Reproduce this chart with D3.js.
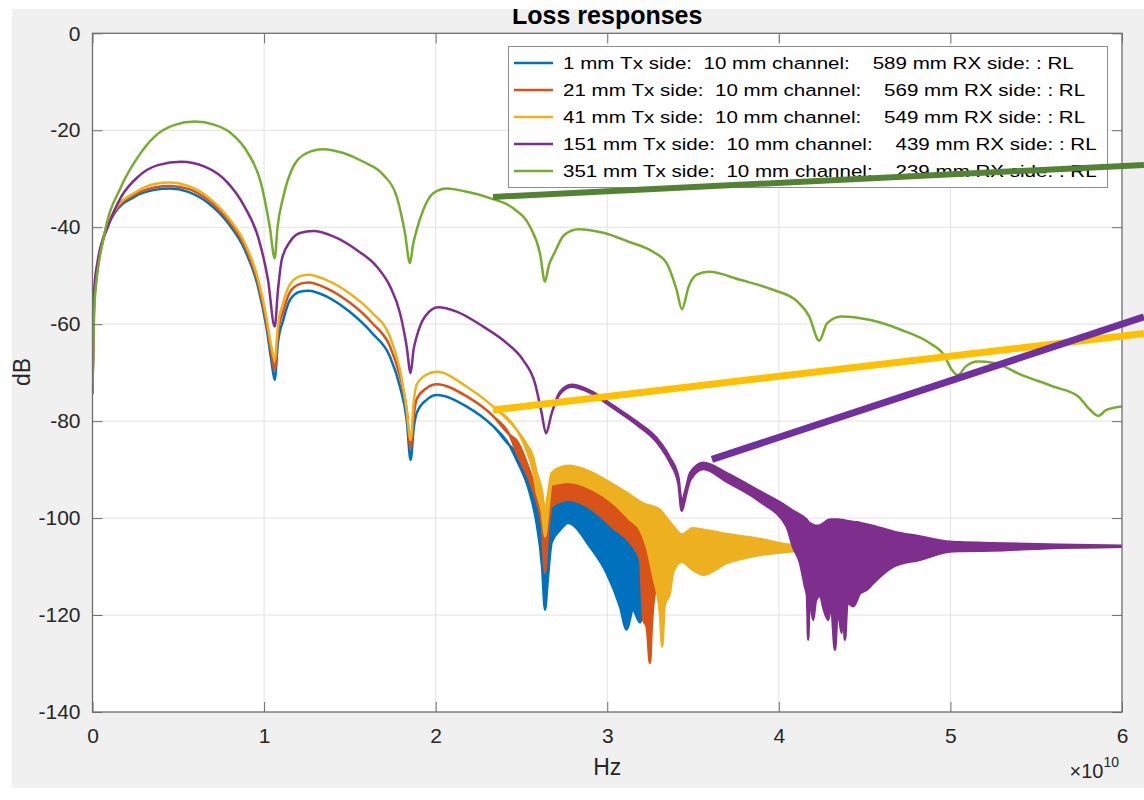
<!DOCTYPE html>
<html>
<head>
<meta charset="utf-8">
<script src="https://cdn.jsdelivr.net/npm/d3@7"></script>
<style>
  html, body { margin: 0; padding: 0; background: #ffffff; }
  svg { display: block; font-family: "Liberation Sans", Arial, Helvetica, sans-serif; }
</style>
</head>
<body>
<svg id="chart" width="1144" height="800"></svg>
<script>
// Return-loss responses of one channel for five Tx / RX split positions.
// Frequencies in GHz. A row is [f, dB] along a resolved trace, or
// [f, upper dB, lower dB] where the response ripples faster than the plot resolves.

const rl1mm = [
  [0,-74.1],[0.1,-55],[0.3,-48.5],[0.7,-41.5],[1.29,-37.1],[2.46,-33.7],[3.62,-32.3],[4.5,-32.0],
  [5.58,-32.7],[6.74,-35.0],[7.91,-39.2],[8.88,-44.7],[9.64,-52.2],[10.13,-60.5],[10.42,-67.4],
  [10.62,-71.5],[10.8,-64],[11.12,-59.1],[11.51,-55.0],[12.09,-53.3],[12.58,-53.1],[13.65,-54.3],
  [14.97,-57.4],[16.31,-61.9],[17.34,-66.7],[17.92,-72.9],[18.31,-79.7],[18.54,-88.0],[18.72,-81.5],
  [18.89,-78.4],[19.47,-75.6],[20.06,-74.6],[21.81,-77.0],[23.36,-81.1],[24.3,-85.0],
  [24.72,-86.5,-88.0],[25.5,-92.5,-95.0],[25.88,-96.5,-101.0],[26.2,-102,-110],[26.37,-111.3,-118.9],
  [26.55,-103,-112],[26.76,-97.6,-105.0],[27.24,-96.6,-102.5],[27.72,-96.2,-101.0],[28.99,-97.9,-105.9],
  [29.96,-100.5,-111.3],[30.74,-103.0,-118.2],[31.13,-104.5,-123.0],[31.5,-106.5,-119],[31.91,-108.6,-121.5],
  [32.3,-109.5,-115],[33.0,-108,-112],[34.0,-105.5,-108],[36,-105.5,-107.5],[40,-105.8,-106.5],[60,-105.8,-105.9]
];

const rl21mm = [
  [0,-74.1],[0.1,-55],[0.3,-48.3],[0.7,-41.3],[1.29,-36.8],[2.46,-33.3],[3.62,-31.8],[4.5,-31.5],
  [5.58,-32.1],[6.74,-34.4],[7.91,-38.6],[8.88,-44.0],[9.64,-51.4],[10.13,-59.5],[10.42,-66.0],
  [10.62,-69.5],[10.8,-62],[11.12,-57.3],[11.51,-53.4],[12.09,-51.7],[12.58,-51.4],[13.65,-52.6],
  [14.97,-55.5],[16.31,-59.8],[17.34,-64.6],[17.92,-70.8],[18.31,-77.6],[18.54,-85.6],[18.72,-79],
  [18.89,-75.5],[19.47,-73.2],[20.06,-72.4],[21.81,-74.9],[23.36,-79.0],[24.3,-82.8],
  [24.72,-84.0,-86.5],[25.5,-90.5,-92.5],[25.88,-94.5,-96.5],[26.2,-99,-102],[26.37,-103.8,-111.3],
  [26.55,-99,-103],[26.76,-93.1,-97.6],[27.24,-92.7,-96.6],[27.72,-92.5,-96.2],[28.99,-93.8,-97.9],
  [30.35,-96.9,-102.0],[31.32,-100.3,-105.0],[31.91,-102.4,-108.6],[32.1,-103.5,-121.0],
  [32.3,-105.9,-122.4],[32.49,-107,-129.9],[32.6,-108,-122],[32.68,-110,-118],[33.0,-107.5,-112],
  [33.5,-106,-109],[34.34,-105.5,-108],[35,-105,-108],[38,-105.5,-107.3],[41,-105.8,-106.5],[60,-105.8,-105.9]
];

const rl41mm = [
  [0,-74.1],[0.1,-55],[0.3,-48.1],[0.7,-41.1],[1.29,-36.5],[2.46,-32.9],[3.62,-31.1],[4.5,-30.8],
  [5.58,-31.5],[6.74,-33.8],[7.91,-38.0],[8.88,-43.3],[9.64,-50.6],[10.13,-58.5],[10.42,-64.5],
  [10.62,-67.4],[10.8,-60.5],[11.12,-55.5],[11.51,-51.8],[12.09,-50.1],[12.58,-49.8],[13.65,-50.9],
  [14.97,-53.6],[16.31,-57.7],[17.34,-62.6],[17.92,-69.4],[18.31,-77.7],[18.54,-83.9],[18.72,-76],
  [18.89,-72.5],[19.47,-70.4],[20.06,-69.8],[21.81,-72.9],[23.36,-77.0],[24.72,-81.8],
  [25.3,-84.8,-86.0],[25.69,-87.5,-90.5],[25.88,-90.5,-94.5],[26.2,-94.5,-99],[26.37,-98.3,-103.8],
  [26.55,-95,-99],[26.76,-90.7,-93.1],[27.24,-89.6,-92.7],[27.72,-89.2,-92.5],[28.99,-90.4,-93.8],
  [30.35,-93.1,-96.9],[31.32,-95.2,-100.3],[31.91,-96.6,-102.4],[32.3,-97.3,-105.9],[32.68,-97.6,-112.0],
  [33.07,-98.3,-119.6],[33.2,-98.8,-126.5],[33.35,-99.5,-118],[33.65,-100.8,-115.5],[33.85,-101.7,-111.0],
  [34.34,-103.4,-109.0],[34.99,-102.1,-110.7],[35.59,-102.4,-111.7],[36.96,-103.3,-109.3],
  [38.90,-104.3,-107.6],[40.65,-105.5,-106.9],[42,-105.7,-106.5],[60,-105.8,-105.9]
];

const rl151mm = [
  [0,-74.1],[0.1,-53],[0.3,-47],[0.9,-39.9],[1.68,-33.7],[2.65,-29.6],[3.82,-27.2],[5.17,-26.5],
  [6.54,-27.5],[7.90,-30.9],[8.87,-35.8],[9.64,-41.9],[10.23,-50.9],[10.62,-60.5],[10.81,-52.9],
  [11.03,-46.7],[11.51,-43.0],[12.09,-41.2],[12.87,-40.8],[14.03,-41.9],[15.40,-44.7],[16.56,-48.1],
  [17.34,-52.2],[17.92,-57.7],[18.31,-64.6],[18.54,-70.1],[18.71,-65.3],[18.89,-62.6],[19.38,-58.4],
  [20.15,-56.5],[21.22,-57.4],[22.77,-60.5],[24.14,-63.9],[25.10,-67.4],[25.79,-72.2],[26.18,-78.4],
  [26.43,-82.5],[26.76,-78.4],[27.24,-74.0,-74.4],[27.92,-72.5,-72.9],[28.99,-73.7,-74.1],
  [30.35,-76.8,-77.3],[31.71,-80.1,-80.7],
  [32.88,-83.5,-84.3],[33.65,-87.5,-88.5],[34.14,-91.5,-92.8],[34.34,-96.5,-98.5],[34.59,-93.8,-95.2],
  [34.83,-90.7,-92.2],[35.60,-88.6,-89.9],[36.96,-90.7,-92.5],[38.90,-94.5,-96.6],[40.45,-97.6,-101.7],
  [40.82,-98.5,-105.9],[41.23,-99.3,-109.2],[41.52,-100,-114.1],[41.64,-100.4,-116],[41.71,-100.8,-125.1],
  [41.79,-101,-116.5],[42.0,-101.4,-121],[42.16,-101.6,-117],[42.4,-101.5,-116],[42.63,-101,-119],
  [42.88,-100.4,-121],[43.04,-100.3,-118],[43.27,-100.3,-127.2],[43.44,-100.3,-119],[43.66,-100.4,-123.7],
  [43.75,-100.4,-119],[43.85,-100.5,-125.1],[44.0,-100.6,-117.5],[44.34,-100.8,-118.2],[44.74,-101.0,-115.5],
  [45.12,-101.3,-114.8],[45.5,-101.6,-113.4],[46.67,-102.8,-110.0],[48.22,-103.8,-108.6],
  [49.97,-104.9,-106.9],[50.55,-105.0,-106.8],[52.48,-105.2,-106.7],[56.38,-105.5,-106.1],[60,-105.7,-105.9]
];

const rl351mm = [
  [0,-74.1],[0.13,-55.0],[0.71,-41.2],[1.66,-31.7],[2.65,-25.5],[3.62,-21.3],[4.79,-18.9],[5.96,-18.2],
  [7.12,-18.9],[8.07,-20.6],[9.06,-24.7],[9.82,-30.9],[10.33,-39.9],[10.62,-46.4],[10.78,-40.1],
  [11.12,-33.7],[11.70,-27.5],[12.48,-24.7],[13.45,-23.9],[14.62,-24.7],[15.78,-26.5],[16.95,-29.2],
  [17.73,-33.7],[18.21,-41.2],[18.50,-47.4],[18.68,-43.6],[18.89,-40.6],[19.28,-36.4],[19.86,-33.0],
  [20.64,-32.0],[21.81,-32.7],[23.16,-34.0],[24.52,-36.1],[25.50,-39.9],[26.08,-45.4],[26.37,-51.2],
  [26.60,-47.8],[26.91,-45.4],[27.49,-41.6],[28.31,-40.4],[29.83,-41.2],[31.24,-43.0],[32.64,-45.0],
  [33.46,-47.4],[34.04,-52.9],[34.35,-56.9],[34.75,-52.2],[35.22,-49.8],[35.92,-49.2],[37.79,-50.9],
  [39.66,-52.9],[41.07,-55.3],[41.77,-58.4],[42.35,-63.4],[42.82,-59.8],[43.64,-58.4],[45.28,-59.1],
  [47.15,-61.2],[48.79,-63.9],[49.61,-66.3],[50.08,-69.4],[50.43,-70.5],[50.90,-68.7],[51.60,-67.7],
  [52.54,-68.0],[54.17,-70.5],[56.03,-72.9],[57.45,-74.9],[58.15,-77.7],[58.62,-78.9],[59.09,-77.7],[60,-77.0]
];

const seriesNames = [
  "1 mm Tx side:  10 mm channel:    589 mm RX side: : RL",
  "21 mm Tx side:  10 mm channel:    569 mm RX side: : RL",
  "41 mm Tx side:  10 mm channel:    549 mm RX side: : RL",
  "151 mm Tx side:  10 mm channel:    439 mm RX side: : RL",
  "351 mm Tx side:  10 mm channel:    239 mm RX side: : RL"
];
const seriesColors = ["#0072BD", "#D95319", "#EDB120", "#7E2F8E", "#77AC30"];

const xTickValues = [0, 1, 2, 3, 4, 5, 6];          // units of 1e10 Hz
const yTickValues = [-140, -120, -100, -80, -60, -40, -20, 0];

// Highlight strokes drawn over the plot, end points as [GHz, dB]
const markGreen  = [[23.34, -33.75], [61.28, -27.15]];
const markYellow = [[23.34, -77.7],  [61.28, -61.9]];
const markPurple = [[36.10, -87.9],  [61.28, -58.5]];

// ---------------------------------------------------------------------------

const svg = d3.select("#chart");
const W = 1144, H = 800;
const plot = { left: 92.5, right: 1122, top: 33.3, bottom: 712 };

const x = d3.scaleLinear().domain([0, 6e10]).range([plot.left, plot.right]);
const y = d3.scaleLinear().domain([-140, 0]).range([plot.bottom, plot.top]);

const axisColor = "#6e6e6e";
const textColor = "#262626";

// figure panel
svg.append("rect").attr("x", 0).attr("y", 0).attr("width", W).attr("height", H).attr("fill", "#ffffff");
svg.append("rect").attr("x", 12).attr("y", 9).attr("width", W - 12).attr("height", 779).attr("fill", "#f0f0f0");

const defs = svg.append("defs");
defs.append("clipPath").attr("id", "plotClip").append("rect")
  .attr("x", plot.left).attr("y", plot.top)
  .attr("width", plot.right - plot.left).attr("height", plot.bottom - plot.top);
defs.append("clipPath").attr("id", "panelClip").append("rect")
  .attr("x", 12).attr("y", 9).attr("width", W - 12).attr("height", 779);

// axes background
svg.append("rect")
  .attr("x", plot.left).attr("y", plot.top)
  .attr("width", plot.right - plot.left).attr("height", plot.bottom - plot.top)
  .attr("fill", "#ffffff");

// grid
const grid = svg.append("g").attr("stroke", "#e2e2e2").attr("stroke-width", 1);
grid.selectAll("line.gx").data(xTickValues.slice(1, -1)).join("line")
  .attr("x1", d => x(d * 1e10)).attr("x2", d => x(d * 1e10))
  .attr("y1", plot.top).attr("y2", plot.bottom);
grid.selectAll("line.gy").data(yTickValues.slice(1, -1)).join("line")
  .attr("x1", plot.left).attr("x2", plot.right)
  .attr("y1", d => y(d)).attr("y2", d => y(d));

// series
const series = [rl1mm, rl21mm, rl41mm, rl151mm, rl351mm];
const band = d3.area()
  .x(d => x(d[0] * 1e9))
  .y1(d => y(d[1]))
  .y0(d => y(d.length > 2 ? d[2] : d[1]))
  .curve(d3.curveMonotoneX);

const traces = svg.append("g").attr("clip-path", "url(#plotClip)");
series.forEach((rows, i) => {
  traces.append("path")
    .attr("d", band(rows))
    .attr("fill", seriesColors[i])
    .attr("stroke", seriesColors[i])
    .attr("stroke-width", 2.5)
    .attr("stroke-linejoin", "round");
});

// axes: ticks point inward on all four sides
function styleAxis(g) {
  g.select(".domain").remove();
  g.selectAll(".tick line").attr("stroke", axisColor).attr("stroke-width", 1);
  g.selectAll(".tick text").attr("fill", textColor).style("font-size", "21px")
    .style("font-family", "'Liberation Sans', Arial, sans-serif");
}
svg.append("g").attr("transform", `translate(0,${plot.bottom})`)
  .call(d3.axisBottom(x).tickValues(xTickValues.map(v => v * 1e10)).tickFormat(d => d / 1e10)
    .tickSizeInner(-10).tickSizeOuter(0).tickPadding(16))
  .call(styleAxis);
svg.append("g").attr("transform", `translate(${plot.left},0)`)
  .call(d3.axisLeft(y).tickValues(yTickValues).tickFormat(d => d)
    .tickSizeInner(-10).tickSizeOuter(0).tickPadding(12))
  .call(styleAxis);
svg.append("g").attr("transform", `translate(0,${plot.top})`)
  .call(d3.axisTop(x).tickValues(xTickValues.map(v => v * 1e10)).tickFormat("")
    .tickSizeInner(-10).tickSizeOuter(0))
  .call(styleAxis);
svg.append("g").attr("transform", `translate(${plot.right},0)`)
  .call(d3.axisRight(y).tickValues(yTickValues).tickFormat("")
    .tickSizeInner(-10).tickSizeOuter(0))
  .call(styleAxis);

// axes box
svg.append("rect")
  .attr("x", plot.left).attr("y", plot.top)
  .attr("width", plot.right - plot.left).attr("height", plot.bottom - plot.top)
  .attr("fill", "none").attr("stroke", axisColor).attr("stroke-width", 1.3);

// labels
svg.append("g").attr("clip-path", "url(#panelClip)")
  .append("text")
  .attr("x", (plot.left + plot.right) / 2).attr("y", 24)
  .attr("text-anchor", "middle")
  .style("font-size", "25px").style("font-weight", "bold").attr("fill", "#000000")
  .text("Loss responses");

svg.append("text")
  .attr("x", (plot.left + plot.right) / 2).attr("y", 775)
  .attr("text-anchor", "middle").style("font-size", "23px").attr("fill", textColor)
  .text("Hz");

svg.append("text")
  .attr("transform", "translate(30,372) rotate(-90)")
  .attr("text-anchor", "middle").style("font-size", "23px").attr("fill", textColor)
  .text("dB");

const expo = svg.append("text")
  .attr("x", 1119).attr("y", 778)
  .attr("text-anchor", "end").style("font-size", "20px").attr("fill", textColor);
expo.append("tspan").text("\u00d710");
expo.append("tspan").attr("dy", -11).style("font-size", "14px").text("10");

// legend (runs of spaces kept as no-break spaces so the padding survives)
const legend = svg.append("g");
legend.append("rect")
  .attr("x", 508.5).attr("y", 46.5).attr("width", 599).attr("height", 141)
  .attr("fill", "#ffffff").attr("stroke", "#8c8c8c").attr("stroke-width", 1);
seriesNames.forEach((name, i) => {
  const cy = 63 + i * 27;
  legend.append("line")
    .attr("x1", 514).attr("x2", 553).attr("y1", cy).attr("y2", cy)
    .attr("stroke", seriesColors[i]).attr("stroke-width", 2.6);
  legend.append("text")
    .attr("transform", `translate(563,${cy + 6}) scale(1.21,1)`)
    .style("font-size", "17px")
    .attr("fill", "#000000")
    .text(name.replace(/ /g, "\u00a0"));
});

// highlight strokes
const marks = [
  { pts: markGreen,  color: "#548235", width: 6 },
  { pts: markYellow, color: "#FFC000", width: 7 },
  { pts: markPurple, color: "#7030A0", width: 7 }
];
marks.forEach(m => {
  svg.append("line")
    .attr("x1", x(m.pts[0][0] * 1e9)).attr("y1", y(m.pts[0][1]))
    .attr("x2", x(m.pts[1][0] * 1e9)).attr("y2", y(m.pts[1][1]))
    .attr("stroke", m.color).attr("stroke-width", m.width);
});
</script>
</body>
</html>
